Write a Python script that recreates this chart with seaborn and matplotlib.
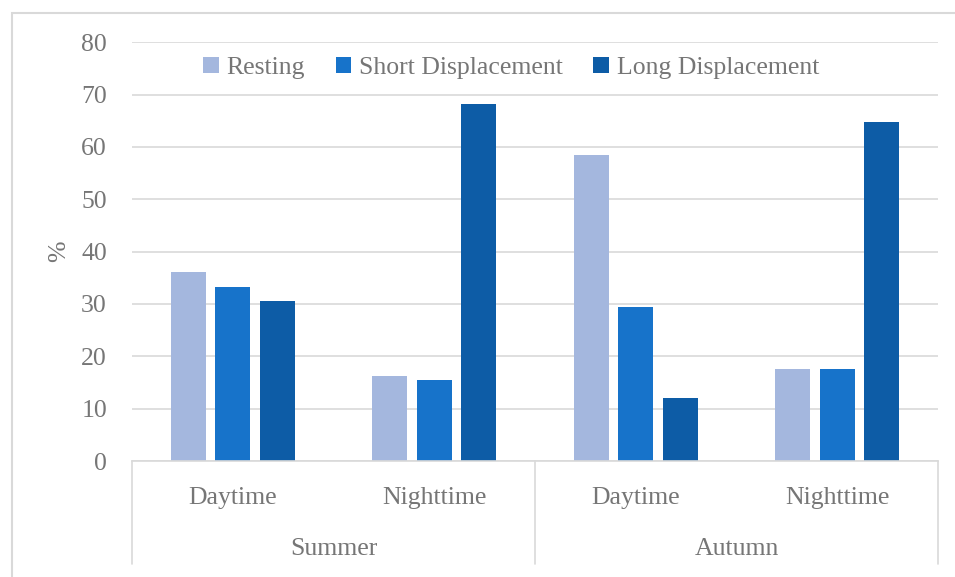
import matplotlib
matplotlib.use("Agg")
import matplotlib.pyplot as plt
import matplotlib.transforms as mtransforms
from matplotlib.patches import Rectangle
import seaborn as sns
import pandas as pd

# chart data
seasons = ['Summer', 'Autumn']
periods = ['Daytime', 'Nighttime']
behaviours = ['Resting', 'Short Displacement', 'Long Displacement']
resting = [36.2, 16.3, 58.5, 17.6]
short_disp = [33.2, 15.4, 29.5, 17.6]
long_disp = [30.6, 68.3, 12.0, 64.7]
y_ticks = [0, 10, 20, 30, 40, 50, 60, 70, 80]

colors = ['#A4B7DE', '#1773CA', '#0D5CA6']
text_col = '#767676'
grid_col = '#D9D9D9'

slots = [s + ' ' + p for s in seasons for p in periods]
rows = []
for name, vals in zip(behaviours, [resting, short_disp, long_disp]):
    for slot, v in zip(slots, vals):
        rows.append({'slot': slot, 'behaviour': name, 'value': v})
df = pd.DataFrame(rows)

sns.set_style('white')
plt.rcParams['font.family'] = ['Liberation Serif', 'DejaVu Serif']
fs = 18.5

fig = plt.figure(figsize=(9.55, 5.77), dpi=100)
ax = fig.add_axes([132 / 955, 1 - 461 / 577, (938 - 132) / 955, (461 - 42.3) / 577])

sns.barplot(data=df, x='slot', y='value', hue='behaviour', order=slots,
            hue_order=behaviours, palette=colors, width=0.66, gap=0.21,
            saturation=1, ax=ax, linewidth=0)

ax.set_ylim(0, 80)
ax.set_xlim(-0.5, 3.5)
ax.set_yticks(y_ticks)
ax.set_yticklabels([str(t) for t in y_ticks], fontsize=fs, color=text_col)
ax.tick_params(axis='y', length=0, pad=18)
ax.set_xticks([])
ax.set_xlabel('')
ax.set_ylabel('%', fontsize=fs, color=text_col, labelpad=8)
ax.yaxis.grid(True, color=grid_col, linewidth=1.2)
ax.set_axisbelow(True)
for side in ['top', 'right', 'left']:
    ax.spines[side].set_visible(False)
ax.spines['bottom'].set_color(grid_col)
ax.spines['bottom'].set_linewidth(1.2)

# multi-level category axis
trans = mtransforms.blended_transform_factory(ax.transData, ax.transAxes)
axh = 461 - 42.3
for xs in [-0.5, 1.5, 3.5]:
    ax.plot([xs, xs], [0, -(564 - 461) / axh], transform=trans, color=grid_col,
            linewidth=1.2, clip_on=False)
for i, slot in enumerate(slots):
    ax.text(i, -(498 - 461) / axh, slot.split(' ')[1], transform=trans,
            ha='center', va='center', fontsize=fs, color=text_col)
for j, s in enumerate(seasons):
    ax.text(2 * j + 0.5, -(549 - 461) / axh, s, transform=trans,
            ha='center', va='center', fontsize=fs, color=text_col)

leg = ax.legend(loc='center', bbox_to_anchor=(511 / 955, 1 - 68 / 577),
                bbox_transform=fig.transFigure, ncol=3, frameon=False,
                fontsize=fs, handlelength=0.6, handleheight=0.6,
                handletextpad=0.3, columnspacing=1.2)
for t in leg.get_texts():
    t.set_color(text_col)

# chart-area border
fig.patches.append(Rectangle((12 / 955, -0.1), 1.2, 1 - 13 / 577 + 0.1,
                             transform=fig.transFigure, fill=False,
                             edgecolor=grid_col, linewidth=1.5))

fig.savefig('out.png', dpi=100)
